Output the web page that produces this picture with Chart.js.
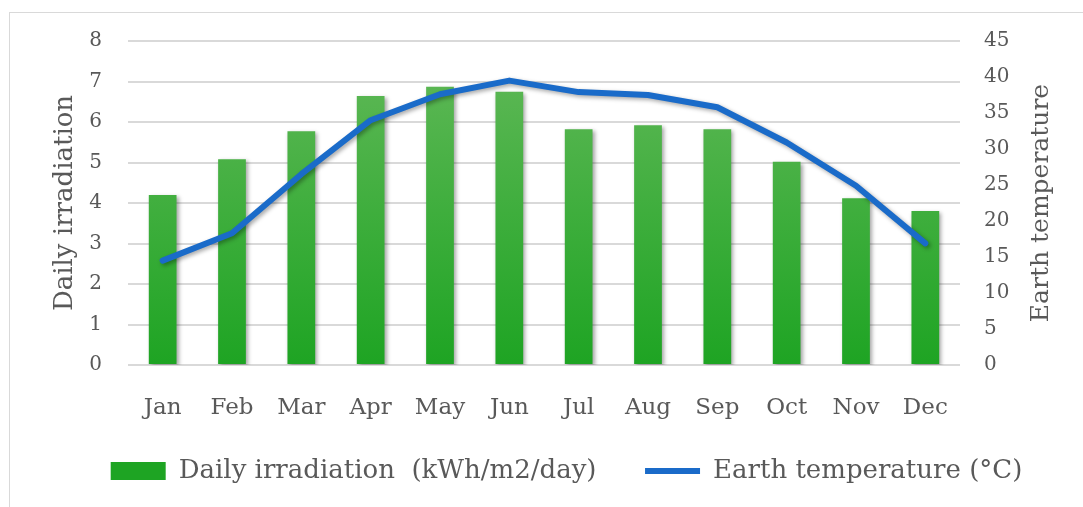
<!DOCTYPE html>
<html>
<head>
<meta charset="utf-8">
<script src="https://cdn.jsdelivr.net/npm/chart.js@4"></script>
<style>
  html, body { margin: 0; padding: 0; background: #fff; overflow: hidden; }
  #wrap { position: relative; width: 1083px; height: 507px; }
  #frame { position: absolute; left: 9px; top: 12px; width: 1200px; height: 600px; border: 1px solid #d9d9d9; }
  canvas { position: absolute; left: 0; top: 0; }
</style>
</head>
<body>
<div id="wrap">
  <div id="frame"></div>
  <canvas id="myChart" width="1083" height="507"></canvas>
</div>
<script>
const months = ["Jan", "Feb", "Mar", "Apr", "May", "Jun", "Jul", "Aug", "Sep", "Oct", "Nov", "Dec"];
const irradiation = [4.2, 5.08, 5.77, 6.64, 6.87, 6.75, 5.82, 5.92, 5.82, 5.02, 4.12, 3.8];
const earthTemp = [14.5, 18.3, 26.5, 34.0, 37.6, 39.5, 37.9, 37.5, 35.8, 30.9, 24.9, 16.9];
const leftTicks = [0, 1, 2, 3, 4, 5, 6, 7, 8];
const rightTicks = [0, 5, 10, 15, 20, 25, 30, 35, 40, 45];
const rightTitle = "Earth temperature";

const fontFamily = "'DejaVu Serif', serif";
const grey = "#595959";

// green gradient for the bars, lighter at the top
function barFill(context) {
  const area = context.chart.chartArea;
  if (!area) return "#3cae3c";
  const g = context.chart.ctx.createLinearGradient(0, area.top, 0, area.bottom);
  g.addColorStop(0, "#63b95a");
  g.addColorStop(1, "#1ea423");
  return g;
}

// soft shadow behind bars and line
const shadowPlugin = {
  id: "shadow",
  beforeDatasetDraw(chart) {
    const ctx = chart.ctx;
    ctx.save();
    ctx.shadowColor = "rgba(0,0,0,0.35)";
    ctx.shadowBlur = 4;
    ctx.shadowOffsetX = 2;
    ctx.shadowOffsetY = 2;
  },
  afterDatasetDraw(chart) {
    chart.ctx.restore();
  },
};

// right axis title reads bottom-to-top like the left one
const rightTitlePlugin = {
  id: "rightTitle",
  afterDraw(chart) {
    const ctx = chart.ctx;
    const area = chart.chartArea;
    ctx.save();
    ctx.translate(1041, (area.top + area.bottom) / 2);
    ctx.rotate(-Math.PI / 2);
    ctx.fillStyle = grey;
    ctx.font = "25px " + fontFamily;
    ctx.textAlign = "center";
    ctx.textBaseline = "middle";
    ctx.fillText(rightTitle, 0, 0);
    ctx.restore();
  },
};

const ctx = document.getElementById("myChart").getContext("2d");
const myChart = new Chart(ctx, {
  data: {
    labels: months,
    datasets: [
      {
        type: "line",
        label: "Earth temperature (°C)",
        data: earthTemp,
        yAxisID: "y2",
        borderColor: "#1a6bc9",
        backgroundColor: "#1a6bc9",
        borderWidth: 6,
        pointRadius: 0,
        tension: 0,
        borderCapStyle: "round",
        borderJoinStyle: "round",
        pointStyle: "line",
        order: 0,
      },
      {
        type: "bar",
        // trailing spaces widen the gap to the next legend item
        label: "Daily irradiation  (kWh/m2/day)  ",
        data: irradiation,
        yAxisID: "y",
        backgroundColor: barFill,
        borderWidth: 0,
        categoryPercentage: 1,
        barPercentage: 0.4,
        pointStyle: "rect",
        order: 1,
      },
    ],
  },
  options: {
    responsive: false,
    animation: false,
    layout: { padding: { top: 41, bottom: 13, left: 50 } },
    plugins: {
      tooltip: { enabled: false },
      legend: {
        position: "bottom",
        reverse: true,
        labels: {
          usePointStyle: true,
          pointStyleWidth: 55,
          boxHeight: 18,
          padding: 32,
          color: grey,
          font: { family: fontFamily, size: 26 },
        },
      },
    },
    scales: {
      x: {
        grid: { display: false, drawTicks: false },
        border: { display: false },
        ticks: { color: grey, font: { family: fontFamily, size: 23 }, padding: 29 },
        afterFit(scale) { scale.height = 61; },
      },
      y: {
        position: "left",
        min: 0,
        max: 8,
        afterBuildTicks(scale) { scale.ticks = leftTicks.map((v) => ({ value: v })); },
        grid: { color: "#d9d9d9", lineWidth: 2, drawTicks: false },
        border: { display: false },
        ticks: { color: grey, font: { family: fontFamily, size: 20 }, padding: 26 },
        title: { display: true, text: "Daily irradiation", color: grey, font: { family: fontFamily, size: 26 }, padding: { top: 0, bottom: 0 } },
        afterFit(scale) { scale.width = 78; },
      },
      y2: {
        position: "right",
        min: 0,
        max: 45,
        afterBuildTicks(scale) { scale.ticks = rightTicks.map((v) => ({ value: v })); },
        grid: { drawOnChartArea: false, drawTicks: false },
        border: { display: false },
        ticks: { color: grey, font: { family: fontFamily, size: 20 }, padding: 24 },
        afterFit(scale) { scale.width = 123; },
      },
    },
  },
  plugins: [shadowPlugin, rightTitlePlugin],
});
</script>
</body>
</html>
